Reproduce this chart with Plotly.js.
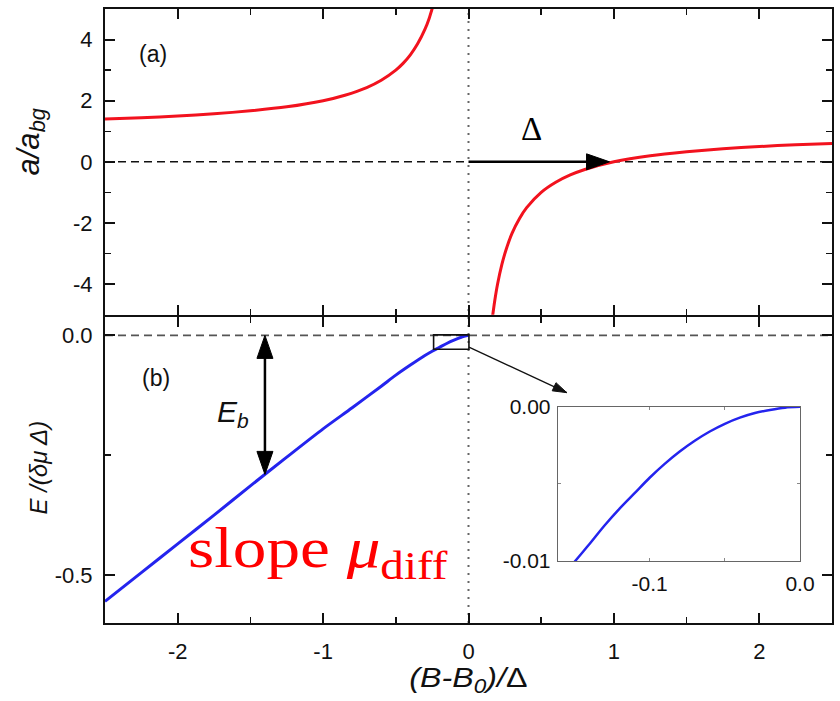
<!DOCTYPE html>
<html>
<head>
<meta charset="utf-8">
<script src="https://cdn.plot.ly/plotly-3.0.1.min.js"></script>
<style>
  html, body { margin: 0; padding: 0; background: #fff; }
  #chart { width: 840px; height: 701px; }
</style>
</head>
<body>
<div id="chart"></div>
<script>
// (a) scattering length a/a_bg across the resonance: two branches either side of B0
const redLeftX  = [-2.5, -2.25, -2.0, -1.75, -1.5, -1.25, -1.0, -0.85, -0.7, -0.6, -0.5, -0.45, -0.4, -0.35, -0.3, -0.27, -0.24];
const redLeftY  = [1.40, 1.44, 1.50, 1.57, 1.67, 1.80, 2.00, 2.18, 2.43, 2.67, 3.00, 3.22, 3.50, 3.86, 4.33, 4.70, 5.17];
const redRightX = [0.16, 0.18, 0.2, 0.23, 0.26, 0.3, 0.35, 0.4, 0.5, 0.6, 0.7, 0.8, 1.0, 1.25, 1.5, 1.75, 2.0, 2.25, 2.5];
const redRightY = [-5.25, -4.56, -4.0, -3.35, -2.85, -2.33, -1.86, -1.5, -1.0, -0.67, -0.43, -0.25, 0.0, 0.2, 0.33, 0.43, 0.5, 0.56, 0.6];

// (b) bound-state energy E/(δμ Δ) below the resonance
const blueX = [-2.5, -2.25, -2.0, -1.75, -1.5, -1.25, -1.0, -0.8, -0.6, -0.5, -0.4, -0.3, -0.25, -0.2, -0.15, -0.1, -0.05, 0];
const blueE = [-0.555, -0.495, -0.435, -0.375, -0.314, -0.254, -0.195, -0.151, -0.106, -0.083, -0.062, -0.042, -0.033, -0.025, -0.017, -0.010, -0.004, 0];

// close-up of the same curve just below threshold (inset)
const zoomX = [-0.165, -0.152, -0.14, -0.13, -0.12, -0.11, -0.10, -0.09, -0.08, -0.07, -0.06, -0.05, -0.04, -0.03, -0.02, -0.01, 0];
const zoomE = [-0.0120, -0.0103, -0.0089, -0.0077, -0.0066, -0.0056, -0.0046, -0.0037, -0.0029, -0.0022, -0.0016, -0.0011, -0.0007, -0.0004, -0.0002, -0.00005, 0];

// tick labels
const xTickVals = [-2, -1, 0, 1, 2];
const xTickText = ['-2', '-1', '0', '1', '2'];
const xMinorVals = [-1.5, -0.5, 0.5, 1.5];
const aTickVals = [-4, -2, 0, 2, 4];
const aTickText = ['-4', '-2', '0', '2', '4'];
const aMinorVals = [-3, -1, 1, 3];
const eTickVals = [-0.5, 0];
const eTickText = ['-0.5', '0.0'];
const eMinorVals = [-0.25];
const insetXTickVals = [-0.1, 0];
const insetXTickText = ['-0.1', '0.0'];
const insetXMinorVals = [-0.05];
const insetETickVals = [-0.01, 0];
const insetETickText = ['-0.01', '0.00'];
const insetEMinorVals = [-0.005];

// annotation anchors
const ebX = -1.4;          // where the binding-energy arrow sits
const deltaTip = 0.97;     // Δ arrow reaches the zero crossing
const boxX = [-0.24, 0.003], boxE = [0.001, -0.029];   // zoom window
const pointerTip = [0.676, -0.1195];                   // arrow towards the inset

function interp(xs, ys, x) {
  for (let i = 0; i < xs.length - 1; i++) {
    if (x >= xs[i] && x <= xs[i + 1]) {
      const t = (x - xs[i]) / (xs[i + 1] - xs[i]);
      return ys[i] + t * (ys[i + 1] - ys[i]);
    }
  }
  return ys[ys.length - 1];
}
const ebE = interp(blueX, blueE, ebX);

const W = 840, H = 701;
const M = { l: 105, r: 8, t: 9, b: 78 };
const xRange = [-2.5, 2.5];
const eRange = [-0.6, 0.039];
const bottomDomain = [0, 0.4989];
const topDomain = [0.5022, 1];

// arrow head for the pointer, oriented along the pointer in screen pixels
const pxPerX = (W - M.l - M.r) / (xRange[1] - xRange[0]);
const pxPerE = (H - M.t - M.b) * (bottomDomain[1] - bottomDomain[0]) / (eRange[1] - eRange[0]);
const pdx = (pointerTip[0] - boxX[1]) * pxPerX;
const pdy = (pointerTip[1] - boxE[1] * 0.85) * pxPerE;
const plen = Math.hypot(pdx, pdy);
const ux = pdx / plen, uy = pdy / plen;
const hl = 14, hw = 4.5;
const bx = -hl * ux, by = -hl * uy;
const headPath = 'M0,0 L' + (bx + hw * uy).toFixed(2) + ',' + (by - hw * ux).toFixed(2) +
                 ' L' + (bx - hw * uy).toFixed(2) + ',' + (by + hw * ux).toFixed(2) + ' Z';

const RED = '#f2121e';
const BLUE = '#2424ee';
const SANS = 'Liberation Sans, Arial, sans-serif';
const SERIF = 'Liberation Serif, Times New Roman, serif';

const traces = [
  { x: redLeftX, y: redLeftY, xaxis: 'x2', yaxis: 'y2', mode: 'lines',
    line: { color: RED, width: 3, shape: 'spline', smoothing: 0.6 }, hoverinfo: 'skip' },
  { x: redRightX, y: redRightY, xaxis: 'x2', yaxis: 'y2', mode: 'lines',
    line: { color: RED, width: 3, shape: 'spline', smoothing: 0.6 }, hoverinfo: 'skip' },
  { x: blueX, y: blueE, xaxis: 'x', yaxis: 'y', mode: 'lines',
    line: { color: BLUE, width: 3, shape: 'spline', smoothing: 0.8 }, hoverinfo: 'skip' },
  { x: zoomX, y: zoomE, xaxis: 'x3', yaxis: 'y3', mode: 'lines',
    line: { color: BLUE, width: 2.5, shape: 'spline', smoothing: 0.8 }, hoverinfo: 'skip' }
];

const frame = {
  showline: true, linecolor: '#111', linewidth: 2, mirror: 'ticks',
  ticks: 'inside', ticklen: 10, tickwidth: 2, tickcolor: '#111',
  showgrid: false, zeroline: false,
  tickfont: { family: SANS, size: 22, color: '#111' }
};
const minorTicks = (vals) => ({ tickvals: vals, ticks: 'inside', ticklen: 6, tickwidth: 1.5, tickcolor: '#111', showgrid: false });
const insetFrame = {
  showline: true, linecolor: '#666', linewidth: 1.2, mirror: 'ticks',
  ticks: 'inside', ticklen: 3, tickwidth: 1, tickcolor: '#888',
  showgrid: false, zeroline: false,
  tickfont: { family: SANS, size: 21, color: '#111' }
};
const insetMinor = (vals) => ({ tickvals: vals, ticks: 'inside', ticklen: 3, tickwidth: 1, tickcolor: '#888', showgrid: false });

const layout = {
  width: W, height: H,
  margin: M,
  paper_bgcolor: '#fff', plot_bgcolor: '#fff',
  showlegend: false,
  xaxis: Object.assign({}, frame, {
    domain: [0, 1], anchor: 'y', range: xRange,
    tickmode: 'array', tickvals: xTickVals, ticktext: xTickText,
    minor: minorTicks(xMinorVals), ticklabelstandoff: 8
  }),
  yaxis: Object.assign({}, frame, {
    domain: bottomDomain, anchor: 'x', range: eRange,
    tickmode: 'array', tickvals: eTickVals, ticktext: eTickText,
    minor: minorTicks(eMinorVals), ticklabelstandoff: 6
  }),
  xaxis2: Object.assign({}, frame, {
    domain: [0, 1], anchor: 'y2', range: xRange, matches: 'x',
    tickmode: 'array', tickvals: xTickVals, ticktext: xTickText,
    minor: minorTicks(xMinorVals), showticklabels: false
  }),
  yaxis2: Object.assign({}, frame, {
    domain: topDomain, anchor: 'x2', range: [-5, 5],
    tickmode: 'array', tickvals: aTickVals, ticktext: aTickText,
    minor: minorTicks(aMinorVals), ticklabelstandoff: 6
  }),
  xaxis3: Object.assign({}, insetFrame, {
    domain: [0.623, 0.956], anchor: 'y3', range: [-0.161, 0],
    tickmode: 'array', tickvals: insetXTickVals, ticktext: insetXTickText,
    minor: insetMinor(insetXMinorVals), ticklabelstandoff: 4
  }),
  yaxis3: Object.assign({}, insetFrame, {
    domain: [0.101, 0.352], anchor: 'x3', range: [-0.01, 0],
    tickmode: 'array', tickvals: insetETickVals, ticktext: insetETickText,
    minor: insetMinor(insetEMinorVals), ticklabelstandoff: 2
  }),
  shapes: [
    // a = 0 reference in (a)
    { type: 'line', xref: 'x2 domain', yref: 'y2', x0: 0, x1: 1, y0: 0, y1: 0,
      line: { color: '#111', width: 1.6, dash: '8px,5px' }, layer: 'below' },
    // E = 0 threshold in (b)
    { type: 'line', xref: 'x domain', yref: 'y', x0: 0, x1: 1, y0: 0, y1: 0,
      line: { color: '#555', width: 1.6, dash: '8px,5px' }, layer: 'below' },
    // resonance position B = B0 through both panels
    { type: 'line', xref: 'x', yref: 'paper', x0: 0, x1: 0, y0: 0, y1: 1,
      line: { color: '#666', width: 2, dash: '2px,6px' }, layer: 'below' },
    // Δ arrow shaft and head
    { type: 'line', xref: 'x2', yref: 'y2', x0: 0, x1: deltaTip - 0.1, y0: 0, y1: 0,
      line: { color: '#000', width: 2.5 } },
    { type: 'path', xref: 'x2', yref: 'y2', xsizemode: 'pixel', ysizemode: 'pixel',
      xanchor: deltaTip, yanchor: 0, path: 'M0,0 L-23,8 L-23,-8 Z',
      fillcolor: '#000', line: { color: '#000', width: 1 } },
    // binding energy double arrow
    { type: 'line', xref: 'x', yref: 'y', x0: ebX, x1: ebX, y0: -0.03, y1: ebE + 0.03,
      line: { color: '#000', width: 2.5 } },
    { type: 'path', xref: 'x', yref: 'y', xsizemode: 'pixel', ysizemode: 'pixel',
      xanchor: ebX, yanchor: 0, path: 'M0,0 L-8,-23 L8,-23 Z',
      fillcolor: '#000', line: { color: '#000', width: 1 } },
    { type: 'path', xref: 'x', yref: 'y', xsizemode: 'pixel', ysizemode: 'pixel',
      xanchor: ebX, yanchor: ebE, path: 'M0,0 L-8,23 L8,23 Z',
      fillcolor: '#000', line: { color: '#000', width: 1 } },
    // zoom window shown in the inset
    { type: 'rect', xref: 'x', yref: 'y', x0: boxX[0], x1: boxX[1], y0: boxE[0], y1: boxE[1],
      line: { color: '#111', width: 1.6 }, fillcolor: 'rgba(0,0,0,0)' },
    // pointer from the window to the inset
    { type: 'line', xref: 'x', yref: 'y', x0: boxX[1], y0: boxE[1] * 0.85, x1: pointerTip[0], y1: pointerTip[1],
      line: { color: '#111', width: 1.3 } },
    { type: 'path', xref: 'x', yref: 'y', xsizemode: 'pixel', ysizemode: 'pixel',
      xanchor: pointerTip[0], yanchor: pointerTip[1], path: headPath,
      fillcolor: '#111', line: { color: '#111', width: 1 } }
  ],
  annotations: [
    { xref: 'x2', yref: 'y2', x: -2.17, y: 3.53, text: '(a)', showarrow: false,
      font: { family: SANS, size: 23, color: '#111' } },
    { xref: 'x', yref: 'y', x: -2.148, y: -0.0898, text: '(b)', showarrow: false,
      font: { family: SANS, size: 23, color: '#111' } },
    { xref: 'x2', yref: 'y2', x: 0.436, y: 1.06, text: 'Δ', showarrow: false,
      font: { family: SERIF, size: 33, color: '#000' } },
    { xref: 'x', yref: 'y', x: -1.623, y: -0.163, text: '<i>E</i><sub><i>b</i></sub>', showarrow: false,
      font: { family: SANS, size: 30, color: '#111' } },
    { xref: 'x', yref: 'y', x: -1.94, y: -0.452, xanchor: 'left', yanchor: 'middle',
      text: 'slope <i>μ</i><sub>diff</sub>', showarrow: false,
      font: { family: SERIF, size: 56, color: '#ff0000' } },
    // axis titles
    { xref: 'paper', yref: 'paper', x: 0, y: 0.7826, xshift: -74, xanchor: 'center', yanchor: 'middle',
      textangle: -90, text: '<i>a/a</i><sub><i>bg</i></sub>', showarrow: false,
      font: { family: SANS, size: 31, color: '#111' } },
    { xref: 'paper', yref: 'paper', x: 0, y: 0.2533, xshift: -67, xanchor: 'center', yanchor: 'middle',
      textangle: -90, text: '<i>E /(δμ Δ)</i>', showarrow: false,
      font: { family: SANS, size: 24, color: '#111' } },
    { xref: 'paper', yref: 'paper', x: 0.5, y: -0.0928, xanchor: 'center', yanchor: 'middle',
      text: '<i>(B-B<sub>0</sub>)/</i>Δ', showarrow: false,
      font: { family: SANS, size: 28, color: '#111' } }
  ]
};

// widen a horizontal annotation's lettering around a chosen origin
function widen(index, factor, origin) {
  const t = document.querySelector('#chart .annotation[data-index="' + index + '"] text.annotation-text');
  if (!t) return;
  t.style.transformBox = 'fill-box';
  t.style.transformOrigin = origin;
  t.style.transform = 'scaleX(' + factor + ')';
}

Plotly.newPlot('chart', traces, layout, { staticPlot: true, displayModeBar: false }).then(function () {
  widen(4, 1.2, '0% 50%');    // slope label
  widen(7, 1.15, '50% 50%');  // horizontal axis title
  // drop the empty placeholder titles the library leaves behind
  document.querySelectorAll('#chart text').forEach(function (el) {
    if (!el.textContent.trim()) el.remove();
  });
});
</script>
</body>
</html>
